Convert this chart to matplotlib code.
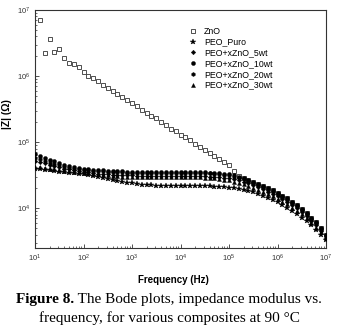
import numpy as np
import matplotlib
matplotlib.use("Agg")
import matplotlib.pyplot as plt
from matplotlib.ticker import NullFormatter

plt.rcParams['font.family'] = ['Liberation Sans', 'DejaVu Sans']
plt.rcParams['mathtext.default'] = 'regular'

# Frequency grid (Hz), 10 points per decade from 10^1 to 10^7
freq = np.logspace(1, 7, 61)

series_names = ["ZnO", "PEO_Puro", "PEO+xZnO_5wt", "PEO+xZnO_10wt",
                "PEO+xZnO_20wt", "PEO+xZnO_30wt"]

x_ticks = [1e1, 1e2, 1e3, 1e4, 1e5, 1e6, 1e7]
y_ticks = [1e4, 1e5, 1e6, 1e7]

z_zno = [np.nan, 7.0e6, 2.2e6, 3.6e6, 2.3e6, 2.6e6, 1.9e6, 1.6e6, 1.5e6, 1.35e6,
         1.15e6, 1.02e6, 9.3e5, 8.3e5, 7.4e5, 6.7e5, 6.0e5, 5.4e5, 4.8e5, 4.4e5,
         3.9e5, 3.5e5, 3.1e5, 2.8e5, 2.5e5, 2.3e5, 2.0e5, 1.8e5, 1.6e5, 1.5e5,
         1.3e5, 1.2e5, 1.06e5, 9.5e4, 8.5e4, 7.6e4, 6.9e4, 6.2e4, 5.5e4, 5.0e4,
         4.5e4, 3.6e4, 3.1e4, 2.9e4, 2.7e4, 2.5e4, 2.35e4, 2.2e4, 2.0e4, 1.86e4,
         1.7e4, 1.55e4, 1.41e4, 1.26e4, 1.12e4, 9.8e3, 8.5e3, 7.2e3, 6.2e3, 5.0e3,
         4.0e3]

z_puro = [39800, 38900, 38000, 37600, 36700, 35900, 35100, 34300, 33900, 33100,
          32400, 31600, 30500, 29500, 28500, 27500, 26600, 25700, 24800, 24300,
          23700, 23200, 22600, 22400, 22100, 21900, 21700, 21600, 21600, 21500,
          21500, 21500, 21400, 21400, 21400, 21400, 21400, 21100, 20900, 20700,
          20400, 20000, 19500, 18800, 18200, 17400, 16600, 15500, 14500, 13500,
          12300, 11200, 10200, 9100, 8100, 7200, 6300, 5500, 4700, 4000,
          3300]

z_5wt = [52500, 50100, 47900, 45700, 43700, 41700, 39800, 38900, 37600, 36700,
         35900, 35100, 34300, 33500, 33100, 32400, 32000, 31600, 31600, 31300,
         31300, 30900, 30900, 30900, 30900, 30900, 30900, 30900, 30900, 30900,
         30900, 30900, 30900, 30900, 30900, 30500, 30200, 29900, 29500, 28800,
         28200, 27500, 26300, 25100, 24000, 22400, 20900, 19500, 17800, 16600,
         15100, 13800, 12600, 11200, 10000, 8700, 7600, 6500, 5500, 4500,
         3600]

z_10wt = [66000, 61700, 57500, 53700, 51300, 47900, 45700, 43700, 41700, 40700,
          39800, 38900, 38500, 38000, 37600, 37200, 36700, 36300, 36300, 35900,
          35900, 35500, 35500, 35500, 35500, 35500, 35500, 35500, 35500, 35500,
          35500, 35100, 35100, 35100, 35100, 35100, 34700, 34300, 33900, 33100,
          32400, 31600, 30200, 28800, 26900, 25100, 23400, 21900, 20000, 18600,
          17000, 15500, 14100, 12600, 11200, 9800, 8500, 7200, 6200, 5000,
          4000]

z_20wt = [57500, 55000, 51300, 49000, 46800, 44700, 42700, 41200, 39800, 38900,
          38000, 37600, 37200, 36700, 36300, 35900, 35500, 35100, 35100, 34700,
          34700, 34300, 34300, 34300, 34300, 34300, 34300, 34300, 34300, 34300,
          34300, 34300, 34300, 34300, 34300, 34300, 33900, 33500, 32700, 32000,
          31300, 30200, 28800, 27500, 25700, 24000, 22400, 20900, 19100, 17800,
          16200, 14800, 13500, 12000, 10700, 9300, 8100, 6900, 5900, 4800,
          3900]

z_30wt = [42700, 41700, 40700, 39800, 38900, 38000, 37200, 36300, 35500, 35100,
          34700, 33900, 33100, 32400, 31600, 31300, 30900, 30500, 30200, 29900,
          29500, 29200, 29200, 29200, 29200, 29200, 29200, 29200, 29200, 29200,
          29200, 29200, 29200, 29200, 29200, 28800, 28500, 28200, 27500, 26900,
          26300, 25100, 24000, 22900, 21900, 20400, 19100, 17800, 16200, 15100,
          13800, 12600, 11500, 10200, 9100, 8100, 7100, 6000, 5100, 4300,
          3500]

fig = plt.figure(figsize=(3.38, 3.30), dpi=100)
ax = fig.add_axes([0.1036, 0.2485, 0.861, 0.7212])

ax.plot(freq, z_zno, linestyle='none', marker='s', ms=2.3, mfc='white',
        mec='#333333', mew=0.6, label=series_names[0], zorder=2)
styles = [('*', 3.8), ('D', 2.3), ('o', 2.9), ('h', 2.9), ('^', 2.9)]
for z, name, (m, s) in zip([z_puro, z_5wt, z_10wt, z_20wt, z_30wt],
                           series_names[1:], styles):
    ax.plot(freq, z, linestyle='none', marker=m, ms=s, mfc='black',
            mec='black', mew=0.3, label=name, zorder=3)

ax.set_xscale('log')
ax.set_yscale('log')
ax.set_xlim(1e1, 1e7)
ax.set_ylim(2.5e3, 1e7)
ax.set_xticks(x_ticks)
ax.set_yticks(y_ticks)
x_minor = [m * d for d in x_ticks[:-1] for m in range(2, 10)]
y_minor = [m * d for d in [1e3] + y_ticks[:-1] for m in range(2, 10)
           if 2.5e3 <= m * d <= 1e7]
ax.set_xticks(x_minor, minor=True)
ax.set_yticks(y_minor, minor=True)
ax.xaxis.set_minor_formatter(NullFormatter())
ax.yaxis.set_minor_formatter(NullFormatter())
ax.tick_params(which='both', direction='in', labelsize=5.5, top=False, right=False,
               colors='#333333')
ax.tick_params(which='major', length=3, width=0.6)
ax.tick_params(which='minor', length=1.6, width=0.5)
for sp in ax.spines.values():
    sp.set_linewidth(0.8)
    sp.set_color('#333333')

ax.set_xlabel('Frequency (Hz)', fontsize=7, fontweight='bold')
ax.xaxis.set_label_coords(0.475, -0.115)
ax.set_ylabel('|Z| (Ω)', fontsize=7.5, fontweight='bold')
ax.yaxis.set_label_coords(-0.079, 0.563)

leg = ax.legend(loc='upper left', bbox_to_anchor=(0.505, 0.955), frameon=False,
                fontsize=6.3, handletextpad=0.6, labelspacing=0.2,
                handlelength=1.2, borderpad=0.2)

# Caption below the chart
cap_font = ['Liberation Serif', 'DejaVu Serif']
cap_size = 11
fig.canvas.draw()
renderer = fig.canvas.get_renderer()
t1 = fig.text(0, 0.091, 'Figure 8.', fontsize=cap_size, fontweight='bold',
              family=cap_font, ha='left', va='center')
t2 = fig.text(0, 0.091, ' The Bode plots, impedance modulus vs.', fontsize=cap_size,
              family=cap_font, ha='left', va='center')
w1 = t1.get_window_extent(renderer).width
w2 = t2.get_window_extent(renderer).width
W = fig.bbox.width
x0 = (W - (w1 + w2)) / 2.0
t1.set_x(x0 / W)
t2.set_x((x0 + w1) / W)
fig.text(0.5, 0.036, 'frequency, for various composites at 90 °C', fontsize=cap_size,
         family=cap_font, ha='center', va='center')

fig.savefig('out.png', dpi=100)
